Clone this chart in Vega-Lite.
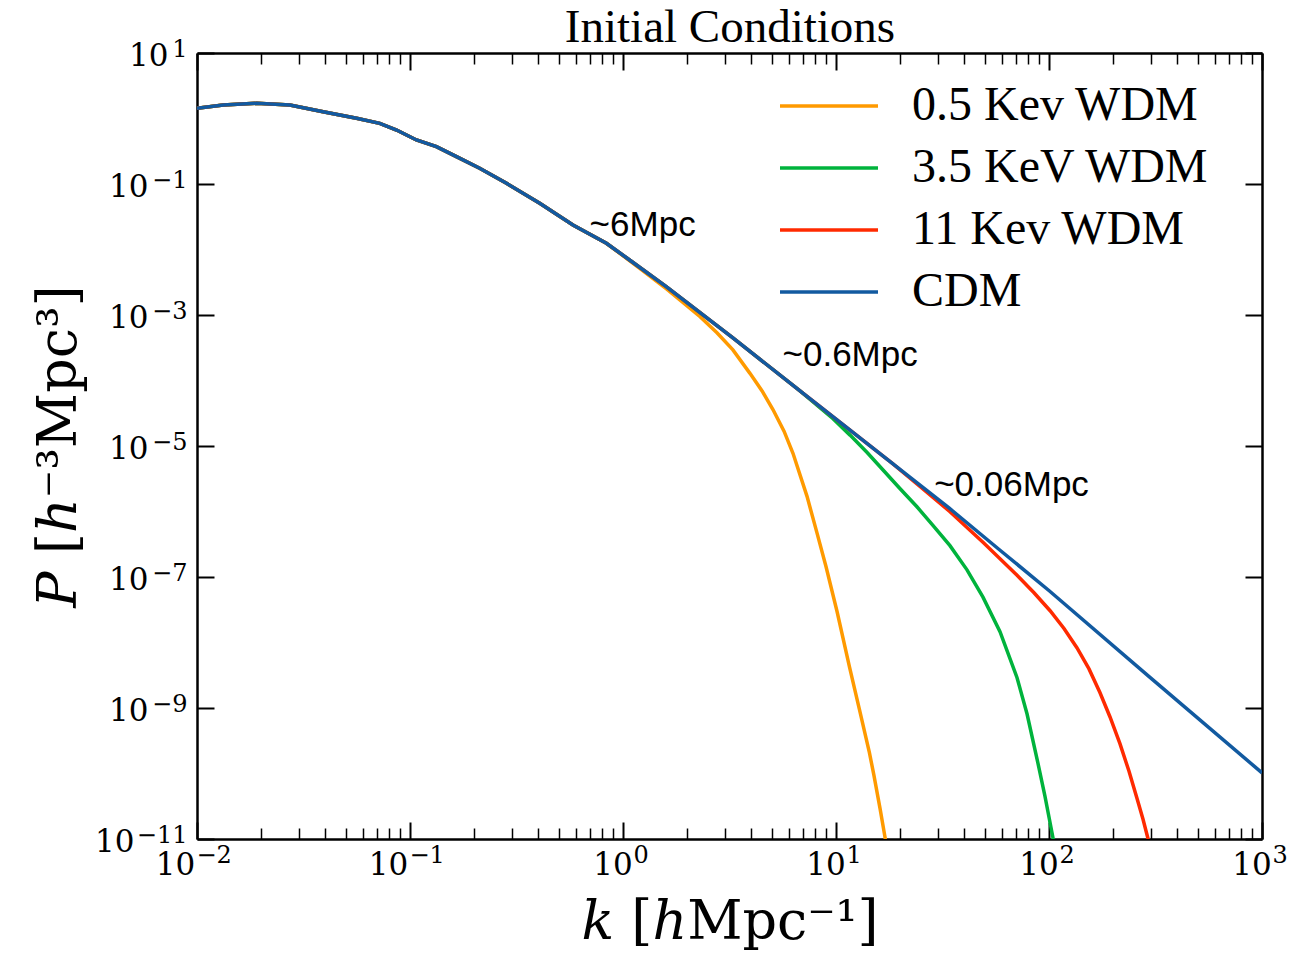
{
  "$schema": "https://vega.github.io/schema/vega-lite/v6.json",
  "width": 1065,
  "height": 786,
  "autosize": {"type": "none"},
  "padding": {"left": 197, "top": 53, "right": 32, "bottom": 120},
  "background": "white",
  "config": {"view": {"stroke": null}},
  "datasets": {
    "spectra": [
      {"series": "0.5 Kev WDM", "k": 0.01, "P": 1.432},
      {"series": "0.5 Kev WDM", "k": 0.01327, "P": 1.607},
      {"series": "0.5 Kev WDM", "k": 0.01905, "P": 1.706},
      {"series": "0.5 Kev WDM", "k": 0.02729, "P": 1.607},
      {"series": "0.5 Kev WDM", "k": 0.03908, "P": 1.271},
      {"series": "0.5 Kev WDM", "k": 0.0561, "P": 1.007},
      {"series": "0.5 Kev WDM", "k": 0.07211, "P": 0.8433},
      {"series": "0.5 Kev WDM", "k": 0.0865, "P": 0.6668},
      {"series": "0.5 Kev WDM", "k": 0.1072, "P": 0.4699},
      {"series": "0.5 Kev WDM", "k": 0.133, "P": 0.3715},
      {"series": "0.5 Kev WDM", "k": 0.1652, "P": 0.2612},
      {"series": "0.5 Kev WDM", "k": 0.2123, "P": 0.1738},
      {"series": "0.5 Kev WDM", "k": 0.2838, "P": 0.1026},
      {"series": "0.5 Kev WDM", "k": 0.4064, "P": 0.0507},
      {"series": "0.5 Kev WDM", "k": 0.5821, "P": 0.02366},
      {"series": "0.5 Kev WDM", "k": 0.8356, "P": 0.01245},
      {"series": "0.5 Kev WDM", "k": 1.202, "P": 0.005117},
      {"series": "0.5 Kev WDM", "k": 1.611, "P": 0.00246},
      {"series": "0.5 Kev WDM", "k": 2.301, "P": 0.0009397},
      {"series": "0.5 Kev WDM", "k": 2.761, "P": 0.000537},
      {"series": "0.5 Kev WDM", "k": 3.281, "P": 0.0002931},
      {"series": "0.5 Kev WDM", "k": 3.945, "P": 0.0001285},
      {"series": "0.5 Kev WDM", "k": 4.498, "P": 0.00006934},
      {"series": "0.5 Kev WDM", "k": 5.058, "P": 0.00003606},
      {"series": "0.5 Kev WDM", "k": 5.702, "P": 0.00001683},
      {"series": "0.5 Kev WDM", "k": 6.281, "P": 0.000007745},
      {"series": "0.5 Kev WDM", "k": 7.311, "P": 0.000001702},
      {"series": "0.5 Kev WDM", "k": 8.147, "P": 4.677e-7},
      {"series": "0.5 Kev WDM", "k": 8.974, "P": 1.445e-7},
      {"series": "0.5 Kev WDM", "k": 10.12, "P": 2.951e-8},
      {"series": "0.5 Kev WDM", "k": 11.56, "P": 4.266e-9},
      {"series": "0.5 Kev WDM", "k": 12.88, "P": 9.55e-10},
      {"series": "0.5 Kev WDM", "k": 14.35, "P": 2.089e-10},
      {"series": "0.5 Kev WDM", "k": 15.07, "P": 9.333e-11},
      {"series": "0.5 Kev WDM", "k": 16.11, "P": 2.884e-11},
      {"series": "0.5 Kev WDM", "k": 16.98, "P": 1.072e-11},
      {"series": "0.5 Kev WDM", "k": 17.78, "P": 4.467e-12},

      {"series": "3.5 KeV WDM", "k": 0.01, "P": 1.432},
      {"series": "3.5 KeV WDM", "k": 0.01327, "P": 1.607},
      {"series": "3.5 KeV WDM", "k": 0.01905, "P": 1.706},
      {"series": "3.5 KeV WDM", "k": 0.02729, "P": 1.607},
      {"series": "3.5 KeV WDM", "k": 0.03908, "P": 1.271},
      {"series": "3.5 KeV WDM", "k": 0.0561, "P": 1.007},
      {"series": "3.5 KeV WDM", "k": 0.07211, "P": 0.8433},
      {"series": "3.5 KeV WDM", "k": 0.0865, "P": 0.6668},
      {"series": "3.5 KeV WDM", "k": 0.1072, "P": 0.4699},
      {"series": "3.5 KeV WDM", "k": 0.133, "P": 0.3715},
      {"series": "3.5 KeV WDM", "k": 0.1652, "P": 0.2612},
      {"series": "3.5 KeV WDM", "k": 0.2123, "P": 0.1738},
      {"series": "3.5 KeV WDM", "k": 0.2838, "P": 0.1026},
      {"series": "3.5 KeV WDM", "k": 0.4064, "P": 0.0507},
      {"series": "3.5 KeV WDM", "k": 0.5821, "P": 0.02366},
      {"series": "3.5 KeV WDM", "k": 0.8356, "P": 0.01245},
      {"series": "3.5 KeV WDM", "k": 1.074, "P": 0.006918},
      {"series": "3.5 KeV WDM", "k": 1.596, "P": 0.002704},
      {"series": "3.5 KeV WDM", "k": 3.281, "P": 0.0004467},
      {"series": "3.5 KeV WDM", "k": 6.73, "P": 0.00007079},
      {"series": "3.5 KeV WDM", "k": 9.683, "P": 0.00002612},
      {"series": "3.5 KeV WDM", "k": 11.64, "P": 0.00001466},
      {"series": "3.5 KeV WDM", "k": 14.0, "P": 0.000007962},
      {"series": "3.5 KeV WDM", "k": 16.63, "P": 0.000004305},
      {"series": "3.5 KeV WDM", "k": 19.95, "P": 0.000002244},
      {"series": "3.5 KeV WDM", "k": 23.99, "P": 0.00000118},
      {"series": "3.5 KeV WDM", "k": 28.51, "P": 6.138e-7},
      {"series": "3.5 KeV WDM", "k": 34.28, "P": 3.006e-7},
      {"series": "3.5 KeV WDM", "k": 41.21, "P": 1.285e-7},
      {"series": "3.5 KeV WDM", "k": 48.98, "P": 4.932e-8},
      {"series": "3.5 KeV WDM", "k": 58.88, "P": 1.462e-8},
      {"series": "3.5 KeV WDM", "k": 70.79, "P": 2.904e-9},
      {"series": "3.5 KeV WDM", "k": 78.89, "P": 8.091e-10},
      {"series": "3.5 KeV WDM", "k": 88.72, "P": 1.445e-10},
      {"series": "3.5 KeV WDM", "k": 95.71, "P": 4.529e-11},
      {"series": "3.5 KeV WDM", "k": 104.5, "P": 1.026e-11},
      {"series": "3.5 KeV WDM", "k": 110.2, "P": 3.89e-12},

      {"series": "11 Kev WDM", "k": 0.01, "P": 1.432},
      {"series": "11 Kev WDM", "k": 0.01327, "P": 1.607},
      {"series": "11 Kev WDM", "k": 0.01905, "P": 1.706},
      {"series": "11 Kev WDM", "k": 0.02729, "P": 1.607},
      {"series": "11 Kev WDM", "k": 0.03908, "P": 1.271},
      {"series": "11 Kev WDM", "k": 0.0561, "P": 1.007},
      {"series": "11 Kev WDM", "k": 0.07211, "P": 0.8433},
      {"series": "11 Kev WDM", "k": 0.0865, "P": 0.6668},
      {"series": "11 Kev WDM", "k": 0.1072, "P": 0.4699},
      {"series": "11 Kev WDM", "k": 0.133, "P": 0.3715},
      {"series": "11 Kev WDM", "k": 0.1652, "P": 0.2612},
      {"series": "11 Kev WDM", "k": 0.2123, "P": 0.1738},
      {"series": "11 Kev WDM", "k": 0.2838, "P": 0.1026},
      {"series": "11 Kev WDM", "k": 0.4064, "P": 0.0507},
      {"series": "11 Kev WDM", "k": 0.5821, "P": 0.02366},
      {"series": "11 Kev WDM", "k": 0.8356, "P": 0.01245},
      {"series": "11 Kev WDM", "k": 1.074, "P": 0.006918},
      {"series": "11 Kev WDM", "k": 1.596, "P": 0.002704},
      {"series": "11 Kev WDM", "k": 3.281, "P": 0.0004467},
      {"series": "11 Kev WDM", "k": 6.73, "P": 0.00007079},
      {"series": "11 Kev WDM", "k": 11.56, "P": 0.00001778},
      {"series": "11 Kev WDM", "k": 18.45, "P": 0.00000537},
      {"series": "11 Kev WDM", "k": 23.99, "P": 0.000002649},
      {"series": "11 Kev WDM", "k": 34.28, "P": 9.931e-7},
      {"series": "11 Kev WDM", "k": 48.98, "P": 3.388e-7},
      {"series": "11 Kev WDM", "k": 70.79, "P": 1.064e-7},
      {"series": "11 Kev WDM", "k": 85.04, "P": 5.754e-8},
      {"series": "11 Kev WDM", "k": 101.2, "P": 3.055e-8},
      {"series": "11 Kev WDM", "k": 117.6, "P": 1.637e-8},
      {"series": "11 Kev WDM", "k": 135.2, "P": 8.337e-9},
      {"series": "11 Kev WDM", "k": 154.1, "P": 3.954e-9},
      {"series": "11 Kev WDM", "k": 173.4, "P": 1.726e-9},
      {"series": "11 Kev WDM", "k": 193.4, "P": 7.295e-10},
      {"series": "11 Kev WDM", "k": 215.3, "P": 2.851e-10},
      {"series": "11 Kev WDM", "k": 237.5, "P": 1.081e-10},
      {"series": "11 Kev WDM", "k": 258.8, "P": 4.178e-11},
      {"series": "11 Kev WDM", "k": 276.3, "P": 2.0e-11},
      {"series": "11 Kev WDM", "k": 291.7, "P": 1.007e-11},
      {"series": "11 Kev WDM", "k": 314.8, "P": 3.802e-12},

      {"series": "CDM", "k": 0.01, "P": 1.432},
      {"series": "CDM", "k": 0.01327, "P": 1.607},
      {"series": "CDM", "k": 0.01905, "P": 1.706},
      {"series": "CDM", "k": 0.02729, "P": 1.607},
      {"series": "CDM", "k": 0.03908, "P": 1.271},
      {"series": "CDM", "k": 0.0561, "P": 1.007},
      {"series": "CDM", "k": 0.07211, "P": 0.8433},
      {"series": "CDM", "k": 0.0865, "P": 0.6668},
      {"series": "CDM", "k": 0.1072, "P": 0.4699},
      {"series": "CDM", "k": 0.133, "P": 0.3715},
      {"series": "CDM", "k": 0.1652, "P": 0.2612},
      {"series": "CDM", "k": 0.2123, "P": 0.1738},
      {"series": "CDM", "k": 0.2838, "P": 0.1026},
      {"series": "CDM", "k": 0.4064, "P": 0.0507},
      {"series": "CDM", "k": 0.5821, "P": 0.02366},
      {"series": "CDM", "k": 0.8356, "P": 0.01245},
      {"series": "CDM", "k": 1.074, "P": 0.006918},
      {"series": "CDM", "k": 1.596, "P": 0.002704},
      {"series": "CDM", "k": 3.281, "P": 0.0004467},
      {"series": "CDM", "k": 6.73, "P": 0.00007079},
      {"series": "CDM", "k": 11.56, "P": 0.00001778},
      {"series": "CDM", "k": 18.45, "P": 0.00000537},
      {"series": "CDM", "k": 34.04, "P": 0.000001122},
      {"series": "CDM", "k": 58.34, "P": 2.63e-7},
      {"series": "CDM", "k": 100.2, "P": 6.166e-8},
      {"series": "CDM", "k": 295.1, "P": 3.02e-9},
      {"series": "CDM", "k": 1000, "P": 1.023e-10}
    ],
    "notes": [
      {"kx": 0.697, "Py": 0.02366, "label": "~6Mpc"},
      {"kx": 5.61, "Py": 0.000245, "label": "~0.6Mpc"},
      {"kx": 28.9, "Py": 0.00000254, "label": "~0.06Mpc"}
    ]
  },
  "resolve": {"axis": {"x": "independent", "y": "independent"}},
  "layer": [
    {
      "data": {"name": "spectra"},
      "mark": {"type": "line", "strokeWidth": 3.5, "clip": true},
      "encoding": {
        "x": {"field": "k", "type": "quantitative",
          "scale": {"type": "log", "domain": [0.01, 1000], "nice": false},
          "axis": {"orient": "bottom", "values": [0.01, 0.1, 1, 10, 100, 1000], "grid": false, "labels": false, "title": null,
            "tickSize": -17, "tickWidth": 2, "tickColor": "black",
            "domain": true, "domainColor": "black", "domainWidth": 2.5}},
        "y": {"field": "P", "type": "quantitative",
          "scale": {"type": "log", "domain": [1e-11, 10], "nice": false},
          "axis": {"orient": "left", "values": [10, 0.1, 0.001, 0.00001, 1e-7, 1e-9, 1e-11], "grid": false, "labels": false, "title": null,
            "tickSize": -17, "tickWidth": 2, "tickColor": "black",
            "domain": true, "domainColor": "black", "domainWidth": 2.5}},
        "color": {"field": "series", "type": "nominal",
          "scale": {"domain": ["0.5 Kev WDM", "3.5 KeV WDM", "11 Kev WDM", "CDM"], "range": ["#FF9A00", "#00B33C", "#FF2A00", "#125AA0"]},
          "legend": {"orient": "none", "legendX": 581, "legendY": 29, "title": null,
            "symbolType": "stroke", "symbolSize": 9604, "symbolStrokeWidth": 3.5,
            "labelFont": "Liberation Serif", "labelFontSize": 48, "labelColor": "black", "labelOffset": 32, "labelLimit": 600,
            "rowPadding": 14, "clipHeight": 48, "padding": 0}}
      }
    },
    {
      "data": {"name": "notes"},
      "mark": {"type": "text", "font": "Liberation Sans", "fontSize": 35, "align": "left", "baseline": "middle", "color": "black"},
      "encoding": {
        "x": {"field": "kx", "type": "quantitative",
          "scale": {"type": "log", "domain": [0.01, 1000], "nice": false},
          "axis": {"orient": "bottom", "values": [0.02,0.03,0.04,0.05,0.06,0.07,0.08,0.09,0.2,0.3,0.4,0.5,0.6,0.7,0.8,0.9,2,3,4,5,6,7,8,9,20,30,40,50,60,70,80,90,200,300,400,500,600,700,800,900],
            "grid": false, "labels": false, "domain": false, "title": null,
            "tickSize": -11, "tickWidth": 1.5, "tickColor": "black"}},
        "y": {"field": "Py", "type": "quantitative",
          "scale": {"type": "log", "domain": [1e-11, 10], "nice": false},
          "axis": {"orient": "right", "values": [10, 0.1, 0.001, 0.00001, 1e-7, 1e-9, 1e-11], "grid": false,
            "labels": false, "title": null,
            "tickSize": -17, "tickWidth": 2, "tickColor": "black",
            "domain": true, "domainColor": "black", "domainWidth": 2.5}},
        "text": {"field": "label", "type": "nominal"}
      }
    },
    {
      "data": {"name": "notes"},
      "mark": {"type": "point", "opacity": 0},
      "encoding": {
        "x": {"field": "kx", "type": "quantitative",
          "scale": {"type": "log", "domain": [0.01, 1000], "nice": false},
          "axis": {"orient": "top", "values": [0.01, 0.1, 1, 10, 100, 1000], "grid": false,
            "labels": false,
            "tickSize": -17, "tickWidth": 2, "tickColor": "black",
            "domain": true, "domainColor": "black", "domainWidth": 2.5,
            "title": "Initial Conditions", "titleFont": "Liberation Serif", "titleFontSize": 47, "titleFontWeight": "normal",
            "titleColor": "black", "titleBaseline": "alphabetic", "titlePadding": 11}},
        "y": {"field": "Py", "type": "quantitative",
          "scale": {"type": "log", "domain": [1e-11, 10], "nice": false},
          "axis": {"orient": "left", "values": [10], "grid": false, "ticks": false, "tickSize": 0, "domain": false, "title": null,
            "labelFont": "DejaVu Serif", "labelFontSize": 31, "labelColor": "black", "labelPadding": 29, "labelOffset": 3.5,
            "labelBaseline": "middle", "labelAlign": "right", "labelFlush": false, "labelOverlap": false, "labelBound": false,
            "labelExpr": "'10'"}}
      }
    },
    {
      "data": {"name": "notes"},
      "mark": {"type": "point", "opacity": 0},
      "encoding": {
        "x": {"field": "kx", "type": "quantitative",
          "scale": {"type": "log", "domain": [0.01, 1000], "nice": false},
          "axis": {"orient": "top", "values": [0.02,0.03,0.04,0.05,0.06,0.07,0.08,0.09,0.2,0.3,0.4,0.5,0.6,0.7,0.8,0.9,2,3,4,5,6,7,8,9,20,30,40,50,60,70,80,90,200,300,400,500,600,700,800,900],
            "grid": false, "labels": false, "domain": false, "title": null,
            "tickSize": -11, "tickWidth": 1.5, "tickColor": "black"}},
        "y": {"field": "Py", "type": "quantitative",
          "scale": {"type": "log", "domain": [1e-11, 10], "nice": false},
          "axis": {"orient": "left", "values": [0.1, 0.001, 0.00001, 1e-7, 1e-9], "grid": false, "ticks": false, "tickSize": 0, "domain": false, "title": null,
            "labelFont": "DejaVu Serif", "labelFontSize": 31, "labelColor": "black", "labelPadding": 49, "labelOffset": 3.5,
            "labelBaseline": "middle", "labelAlign": "right", "labelFlush": false, "labelOverlap": false, "labelBound": false,
            "labelExpr": "'10'"}}
      }
    },
    {
      "data": {"name": "notes"},
      "mark": {"type": "point", "opacity": 0},
      "encoding": {
        "x": {"field": "kx", "type": "quantitative",
          "scale": {"type": "log", "domain": [0.01, 1000], "nice": false},
          "axis": {"orient": "bottom", "values": [0.01, 0.1], "grid": false, "ticks": false, "tickSize": 0, "domain": false,
            "labelFont": "DejaVu Serif", "labelFontSize": 31, "labelColor": "black", "labelPadding": 11, "labelOffset": -22,
            "labelBaseline": "top", "labelAlign": "center", "labelFlush": false, "labelOverlap": false, "labelBound": false,
            "labelExpr": "'10'",
            "title": "𝑘 [ℎMpc⁻¹]", "titleFont": "DejaVu Serif", "titleFontSize": 54, "titleFontWeight": "normal", "titleColor": "black", "titlePadding": 15}},
        "y": {"field": "Py", "type": "quantitative",
          "scale": {"type": "log", "domain": [1e-11, 10], "nice": false},
          "axis": {"orient": "left", "values": [1e-11], "grid": false, "ticks": false, "tickSize": 0, "domain": false,
            "labelFont": "DejaVu Serif", "labelFontSize": 31, "labelColor": "black", "labelPadding": 63, "labelOffset": 3.5,
            "labelBaseline": "middle", "labelAlign": "right", "labelFlush": false, "labelOverlap": false, "labelBound": false,
            "labelExpr": "'10'",
            "title": "𝑃 [ℎ⁻³Mpc³]", "titleFont": "DejaVu Serif", "titleFontSize": 54, "titleFontWeight": "normal", "titleColor": "black", "titlePadding": 8}}
      }
    },
    {
      "data": {"name": "notes"},
      "mark": {"type": "point", "opacity": 0},
      "encoding": {
        "x": {"field": "kx", "type": "quantitative",
          "scale": {"type": "log", "domain": [0.01, 1000], "nice": false},
          "axis": {"orient": "bottom", "values": [1, 10, 100, 1000], "grid": false, "ticks": false, "tickSize": 0, "domain": false, "title": null,
            "labelFont": "DejaVu Serif", "labelFontSize": 31, "labelColor": "black", "labelPadding": 11, "labelOffset": -10.5,
            "labelBaseline": "top", "labelAlign": "center", "labelFlush": false, "labelOverlap": false, "labelBound": false,
            "labelExpr": "'10'"}},
        "y": {"field": "Py", "type": "quantitative",
          "scale": {"type": "log", "domain": [1e-11, 10], "nice": false},
          "axis": {"orient": "left", "values": [10, 0.1, 0.001, 0.00001, 1e-7, 1e-9, 1e-11], "grid": false, "ticks": false, "tickSize": 0, "domain": false, "title": null,
            "labelFont": "DejaVu Serif", "labelFontSize": 24, "labelColor": "black", "labelPadding": 10, "labelOffset": -4,
            "labelBaseline": "middle", "labelAlign": "right", "labelFlush": false, "labelOverlap": false, "labelBound": false,
            "labelExpr": "(round(log(datum.value)/LN10) < 0 ? '−' : '') + abs(round(log(datum.value)/LN10))"}}
      }
    },
    {
      "data": {"name": "notes"},
      "mark": {"type": "point", "opacity": 0},
      "encoding": {
        "x": {"field": "kx", "type": "quantitative",
          "scale": {"type": "log", "domain": [0.01, 1000], "nice": false},
          "axis": {"orient": "bottom", "values": [0.01, 0.1], "grid": false, "ticks": false, "tickSize": 0, "domain": false, "title": null,
            "labelFont": "DejaVu Serif", "labelFontSize": 24, "labelColor": "black", "labelPadding": 4.5, "labelOffset": -1,
            "labelBaseline": "top", "labelAlign": "left", "labelFlush": false, "labelOverlap": false, "labelBound": false,
            "labelExpr": "'−' + abs(round(log(datum.value)/LN10))"}},
        "y": {"field": "Py", "type": "quantitative",
          "scale": {"type": "log", "domain": [1e-11, 10], "nice": false}, "axis": null}
      }
    },
    {
      "data": {"name": "notes"},
      "mark": {"type": "point", "opacity": 0},
      "encoding": {
        "x": {"field": "kx", "type": "quantitative",
          "scale": {"type": "log", "domain": [0.01, 1000], "nice": false},
          "axis": {"orient": "bottom", "values": [1, 10, 100, 1000], "grid": false, "ticks": false, "tickSize": 0, "domain": false, "title": null,
            "labelFont": "DejaVu Serif", "labelFontSize": 24, "labelColor": "black", "labelPadding": 4.5, "labelOffset": 10,
            "labelBaseline": "top", "labelAlign": "left", "labelFlush": false, "labelOverlap": false, "labelBound": false,
            "labelExpr": "'' + round(log(datum.value)/LN10)"}},
        "y": {"field": "Py", "type": "quantitative",
          "scale": {"type": "log", "domain": [1e-11, 10], "nice": false}, "axis": null}
      }
    }
  ]
}
